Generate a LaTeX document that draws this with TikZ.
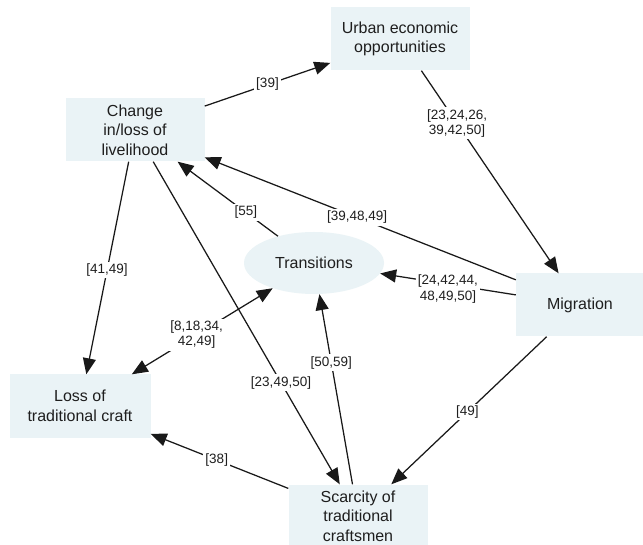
\documentclass[tikz,border=0pt]{standalone}
\usepackage{fontspec}
\setmainfont{Liberation Sans}
\usetikzlibrary{arrows.meta,shapes.geometric}
\definecolor{boxfill}{RGB}{234,243,246}
\definecolor{txt}{RGB}{30,30,30}
\tikzset{
  box/.style={rectangle, fill=boxfill, draw=none, minimum width=139pt, minimum height=63pt,
    align=center, text=txt, font=\fontsize{16}{19.5}\selectfont, inner sep=2pt},
  oval/.style={ellipse, fill=boxfill, draw=none, minimum width=140pt, minimum height=62pt,
    text=txt, font=\fontsize{16}{19.5}\selectfont, inner sep=0pt},
  conn/.style={draw=black!90, line width=1.25pt, -{Triangle[length=16pt,width=13pt]}},
  bconn/.style={draw=black!90, line width=1.25pt, {Triangle[length=16pt,width=13pt]}-{Triangle[length=16pt,width=13pt]}},
  lbl/.style={fill=white, text=txt, font=\fontsize{13.5}{15.5}\selectfont, align=center, inner sep=2pt}
}
\begin{document}
\begin{tikzpicture}[x=1pt,y=-1pt]
\useasboundingbox (0,0) rectangle (643,545);
\fill[white] (0,0) rectangle (643,545);
\node[box] (urban) at (400,39) {Urban economic\\opportunities};
\node[box] (chg) at (135,130) {Change\\in/loss of\\livelihood};
\node[oval] (trans) at (314,263) {Transitions};
\node[box, minimum width=128pt] (mig) at (580,305) {Migration};
\node[box, minimum width=141pt] (loss) at (80,406) {Loss of\\traditional craft};
\node[box] (scar) at (358,516) {Scarcity of\\traditional\\craftsmen};

\draw[conn] (chg) -- node[lbl, pos=0.5] {[39]} (urban);
\draw[conn] (urban) -- node[lbl, pos=0.26] {[23,24,26,\\39,42,50]} (mig);
\draw[conn] (mig) -- node[lbl, pos=0.51] {[39,48,49]} (chg);
\draw[conn] (trans) -- node[lbl, pos=0.32] {[55]} (chg);
\draw[conn] (chg) -- node[lbl, pos=0.51] {[41,49]} (loss);
\draw[conn] (chg) -- node[lbl, pos=0.685] {[23,49,50]} (scar);
\draw[conn] (mig) -- node[lbl, pos=0.5, yshift=-5pt] {[24,42,44,\\48,49,50]} (trans);
\draw[bconn] (loss) -- node[lbl, pos=0.46] {[8,18,34,\\42,49]} (trans);
\draw[conn] (scar) -- node[lbl, pos=0.64] {[50,59]} (trans);
\draw[conn] (mig) -- node[lbl, pos=0.51] {[49]} (scar);
\draw[conn] (scar) -- node[lbl, pos=0.52] {[38]} (loss);
\end{tikzpicture}
\end{document}
